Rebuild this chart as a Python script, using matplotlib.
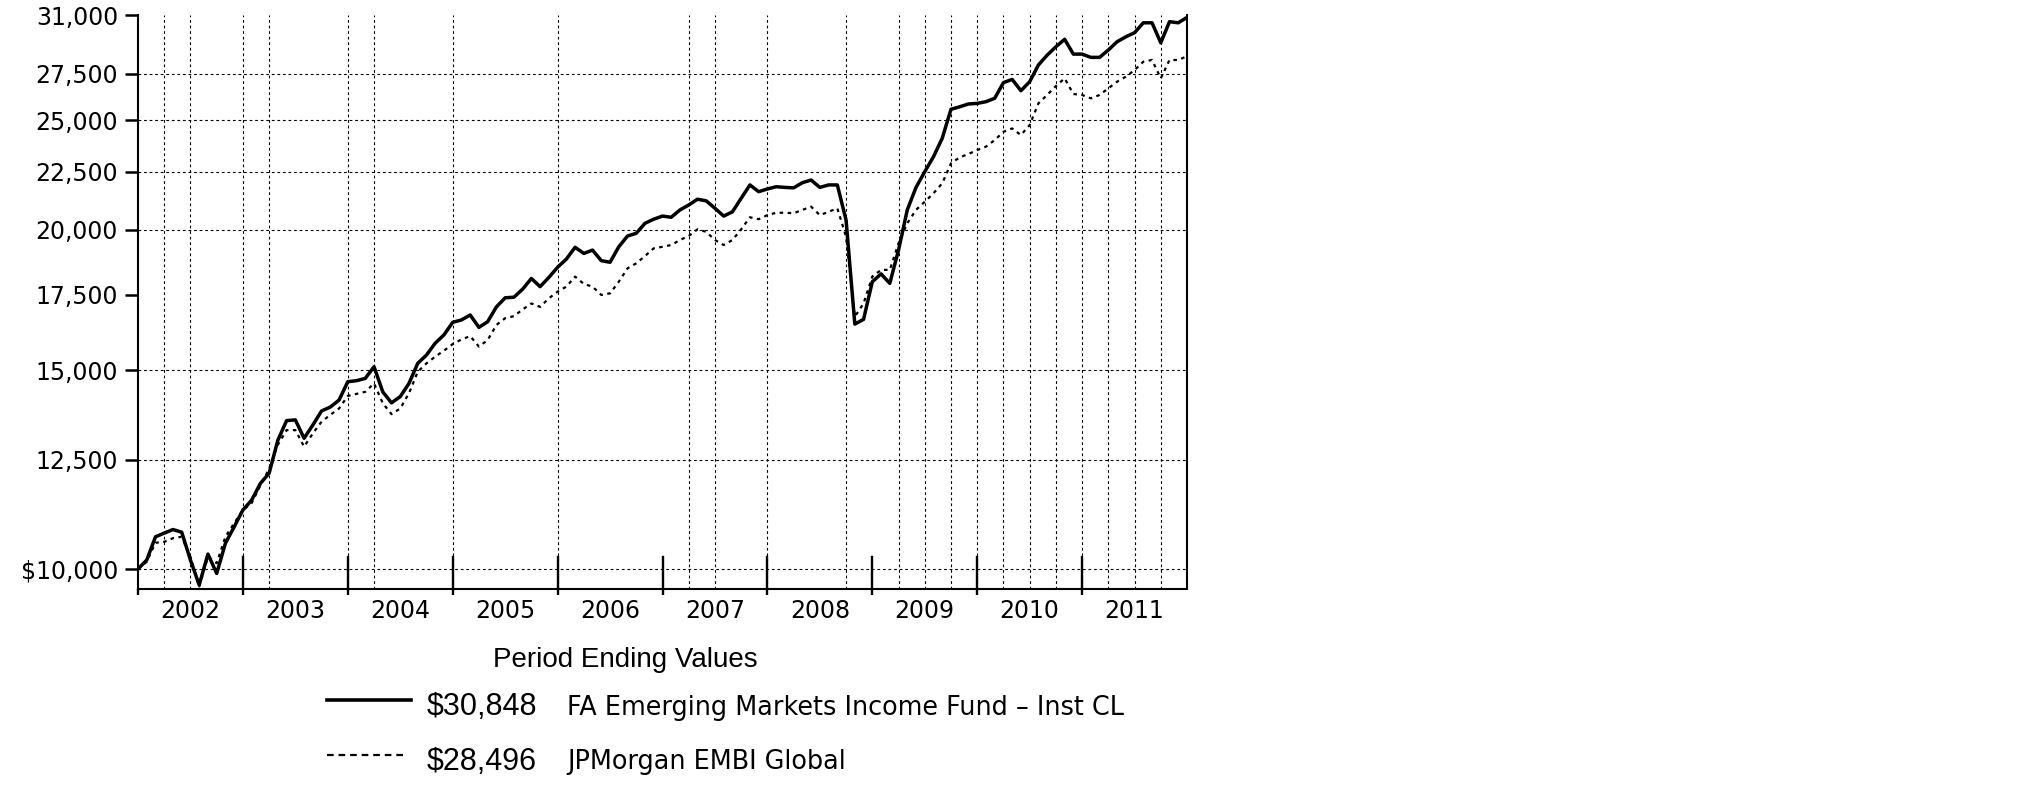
import numpy as np
import matplotlib
matplotlib.use('Agg')
import matplotlib.pyplot as plt
from matplotlib.lines import Line2D
from matplotlib.ticker import FixedLocator, FixedFormatter, NullLocator, NullFormatter

# ---------------- data ----------------
years = ['2002', '2003', '2004', '2005', '2006', '2007', '2008', '2009', '2010', '2011']

# monthly values, Dec 2001 .. Dec 2011 (121 points)
fund = [10000, 10185, 10680, 10760, 10840, 10780, 10185, 9680, 10310, 9910,
        10540, 10900, 11280, 11510, 11910, 12160, 13010, 13540, 13560, 13060,
        13420, 13810, 13920, 14120, 14660, 14690, 14760, 15115, 14360, 14040,
        14220, 14610, 15220, 15480, 15860, 16130, 16550, 16630, 16800, 16380,
        16570, 17080, 17400, 17420, 17710, 18100, 17800, 18140, 18520, 18830,
        19290, 19050, 19180, 18770, 18710, 19310, 19740, 19850, 20260, 20430,
        20560, 20510, 20820, 21030, 21280, 21210, 20890, 20560, 20740, 21320,
        21910, 21610, 21730, 21830, 21800, 21780, 22010, 22130, 21800, 21910,
        21910, 20390, 16490, 16650, 17980, 18270, 17920, 19180, 20820, 21800,
        22510, 23210, 24100, 25570, 25700, 25850, 25880, 25970, 26150, 27000,
        27180, 26560, 27050, 27990, 28560, 29050, 29500, 28620, 28620, 28430,
        28430, 28860, 29350, 29650, 29900, 30510, 30510, 29290, 30580, 30510,
        30848]

index = [10000, 10150, 10550, 10570, 10650, 10680, 10250, 9650, 10250, 10120,
         10680, 10980, 11280, 11440, 11860, 12270, 12890, 13280, 13280, 12840,
         13190, 13510, 13700, 13880, 14240, 14300, 14360, 14610, 14030, 13720,
         13880, 14320, 14960, 15220, 15430, 15620, 15830, 15980, 16090, 15750,
         15960, 16460, 16690, 16760, 16990, 17200, 17080, 17380, 17620, 17800,
         18170, 17900, 17800, 17500, 17560, 17980, 18480, 18670, 18950, 19250,
         19310, 19380, 19580, 19740, 20010, 19910, 19580, 19380, 19580, 20010,
         20510, 20430, 20600, 20700, 20700, 20680, 20820, 20960, 20600, 20740,
         20890, 19710, 16740, 17200, 18170, 18420, 18420, 19450, 20260, 20820,
         21170, 21540, 21980, 22900, 23180, 23340, 23530, 23690, 24010, 24420,
         24590, 24260, 24760, 25880, 26330, 26810, 27240, 26380, 26330, 26150,
         26330, 26690, 27050, 27330, 27700, 28180, 28280, 27240, 28280, 28280,
         28496]

fund_name = 'FA Emerging Markets Income Fund \u2013 Inst CL'
index_name = 'JPMorgan EMBI Global'
legend_title = 'Period Ending Values'

y_ticks = [10000, 12500, 15000, 17500, 20000, 22500, 25000, 27500, 31000]
y_tick_labels = ['$10,000', '12,500', '15,000', '17,500', '20,000',
                 '22,500', '25,000', '27,500', '31,000']
y_grid = [10000, 12500, 15000, 20000, 22500, 25000, 27500]
x_grid_months = [3, 6, 12, 15, 24, 27, 36, 48, 63, 66, 72, 81, 87, 90, 93,
                 96, 99, 102, 105, 108, 111, 114, 117]

# ---------------- figure ----------------
W, H = 2025, 806
fig = plt.figure(figsize=(W / 100, H / 100), dpi=100)
L, R, T, B = 138, 1187, 15, 589
ax = fig.add_axes([L / W, 1 - B / H, (R - L) / W, (B - T) / H])

months = np.arange(len(fund))
n_months = 12 * len(years)

ax.set_yscale('log')
ax.set_ylim(9600, 31000)
ax.set_xlim(0, n_months)

grid_kw = dict(color='black', lw=0.8, ls=(0, (2.5, 2.5)), zorder=1)
for g in y_grid:
    ax.axhline(g, **grid_kw)
for g in x_grid_months:
    ax.axvline(g, **grid_kw)

# inner year-boundary ticks
for m in range(12, n_months, 12):
    ax.axvline(m, ymin=0, ymax=32 / (B - T), color='black', lw=1.7, zorder=3)

ax.plot(months, fund, color='black', lw=2.5, zorder=4, solid_joinstyle='round')
ax.plot(months, index, color='black', lw=1.6, ls=(0, (1.6, 2.0)), zorder=4)

# y axis
ax.yaxis.set_major_locator(FixedLocator(y_ticks))
ax.yaxis.set_major_formatter(FixedFormatter(y_tick_labels))
ax.yaxis.set_minor_locator(NullLocator())
ax.yaxis.set_minor_formatter(NullFormatter())
ax.tick_params(axis='y', which='major', direction='out', length=9.4, width=1.8,
               pad=5, labelsize=17, color='black')

# x axis
ax.xaxis.set_major_locator(FixedLocator(list(range(0, n_months, 12))))
ax.xaxis.set_major_formatter(NullFormatter())
ax.xaxis.set_minor_locator(FixedLocator([6 + 12 * i for i in range(len(years))]))
ax.xaxis.set_minor_formatter(FixedFormatter(years))
ax.tick_params(axis='x', which='major', direction='out', length=4.5, width=1.7)
ax.tick_params(axis='x', which='minor', length=0, pad=7.5, labelsize=17)

for lab in ax.get_xticklabels(minor=True) + ax.get_yticklabels():
    lab.set_family('DejaVu Sans')

ax.spines['top'].set_visible(False)
for s in ('left', 'bottom', 'right'):
    ax.spines[s].set_linewidth(1.5)

# ---------------- legend block ----------------
def fx(px):
    return px / W

def fy(py):
    return 1 - py / H

fig.text(fx(625), fy(667), legend_title, ha='center', va='baseline',
         family='Liberation Sans', fontsize=20)

fig.add_artist(Line2D([fx(327), fx(411)], [fy(700), fy(700)], color='black', lw=2.6))
fig.add_artist(Line2D([fx(327), fx(405)], [fy(755), fy(755)], color='black', lw=1.6,
                      ls=(0, (3.0, 2.2))))

fig.text(fx(427), fy(715), '${:,.0f}'.format(fund[-1]), ha='left', va='baseline',
         family='Liberation Sans', fontsize=22)
fig.text(fx(427), fy(770), '${:,.0f}'.format(index[-1]), ha='left', va='baseline',
         family='Liberation Sans', fontsize=22)
fig.text(fx(567), fy(715), fund_name, ha='left', va='baseline',
         family='DejaVu Sans', fontsize=18.4)
fig.text(fx(567), fy(769), index_name, ha='left', va='baseline',
         family='DejaVu Sans', fontsize=18.4)

fig.savefig('out.png', dpi=100, facecolor='white')
